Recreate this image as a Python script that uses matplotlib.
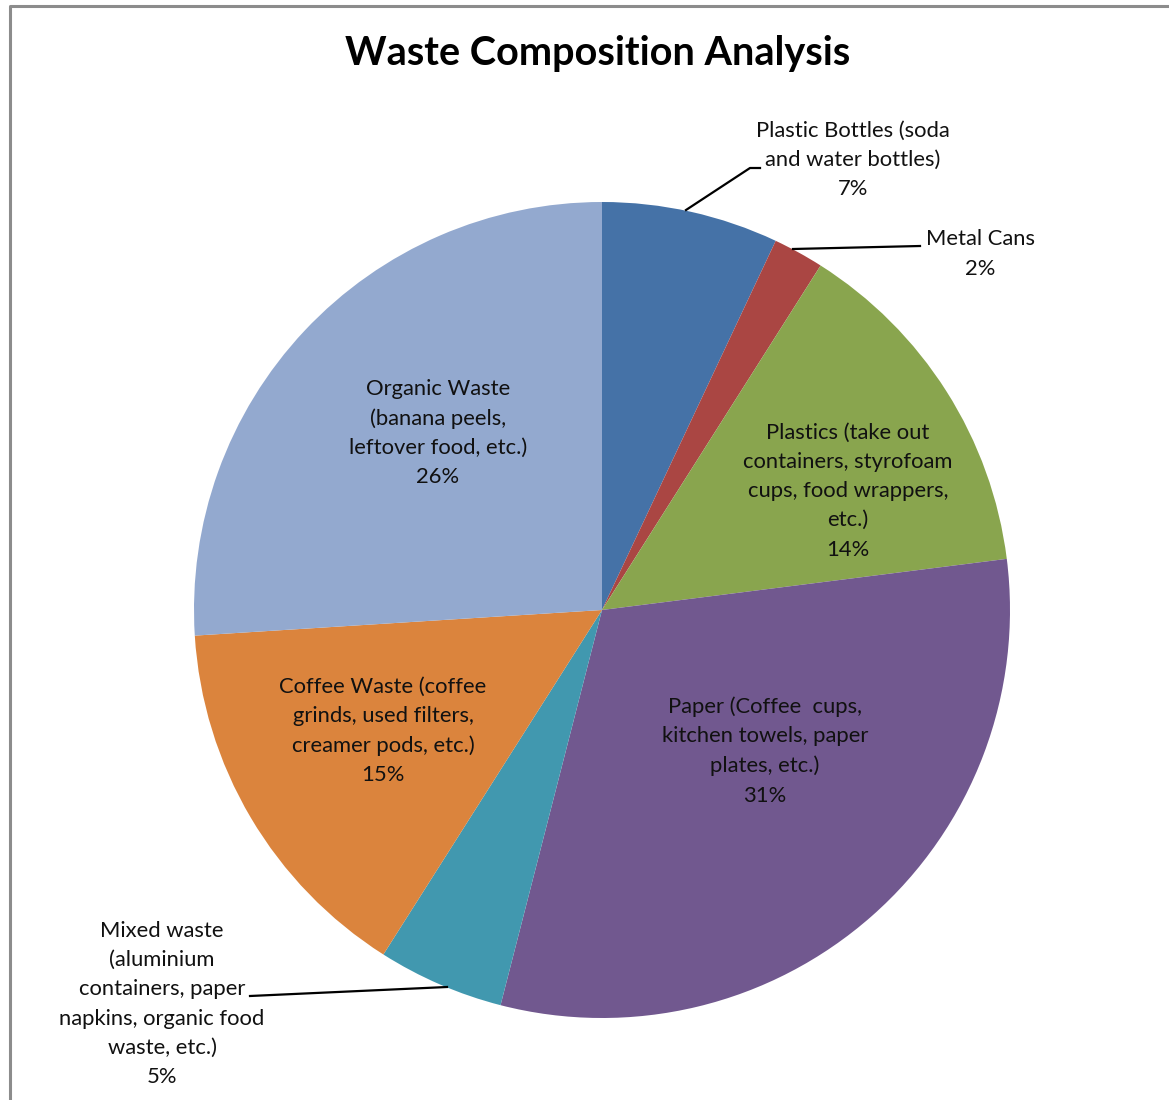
import matplotlib
matplotlib.use("Agg")
from matplotlib import pyplot as plt

plt.rcParams['font.family'] = ['Lato', 'DejaVu Sans']

# slices, clockwise from 12 o'clock
names = [
    "Plastic Bottles (soda\nand water bottles)",
    "Metal Cans",
    "Plastics (take out\ncontainers, styrofoam\ncups, food wrappers,\netc.)",
    "Paper (Coffee  cups,\nkitchen towels, paper\nplates, etc.)",
    "Mixed waste\n(aluminium\ncontainers, paper\nnapkins, organic food\nwaste, etc.)",
    "Coffee Waste (coffee\ngrinds, used filters,\ncreamer pods, etc.)",
    "Organic Waste\n(banana peels,\nleftover food, etc.)",
]
shares = [7, 2, 14, 31, 5, 15, 26]
colors = ["#4572A7", "#AA4643", "#89A54E", "#71588F", "#4198AF", "#DB843D", "#93A9CF"]

W, H = 1169, 1100

fig = plt.figure(figsize=(W / 100, H / 100), dpi=100)
ax = fig.add_axes([0, 0, 1, 1])
ax.set_aspect('equal')

def py(y):
    # screen-style y (down) to axis y (up)
    return H - y

cx, cy, r = 602, py(610), 408
ax.pie(shares, colors=colors, startangle=90, counterclock=False,
       center=(cx, cy), radius=r, frame=True,
       wedgeprops=dict(linewidth=0))
ax.set_xlim(0, W)
ax.set_ylim(0, H)
ax.axis('off')

# chart frame
ax.plot([10, 10, W], [0, py(5.5), py(5.5)], color="#8c8c8c", lw=2.2,
        solid_capstyle='butt', clip_on=False)

ax.text(598, py(53), "Waste Composition Analysis", ha='center', va='center',
        fontsize=28.5, fontweight='bold')

# label anchors (centre of each text block)
label_xy = [
    (853, py(160)),
    (980, py(254)),
    (848, py(491)),
    (765, py(751)),
    (162, py(1004)),
    (383, py(731)),
    (438, py(433)),
]
for name, v, (x, y) in zip(names, shares, label_xy):
    ax.text(x, y, f"{name}\n{v}%", ha='center', va='center',
            fontsize=15.8, linespacing=1.58, color="#111111")

# leader lines for the outside labels
leaders = [
    [(686, 210), (750, 168), (760, 168)],
    [(793, 249), (920, 246)],
    [(447, 987), (250, 996)],
]
for pts in leaders:
    xs = [p[0] for p in pts]
    ys = [py(p[1]) for p in pts]
    ax.plot(xs, ys, color="black", lw=1.6)

fig.savefig("out.png", dpi=100)
